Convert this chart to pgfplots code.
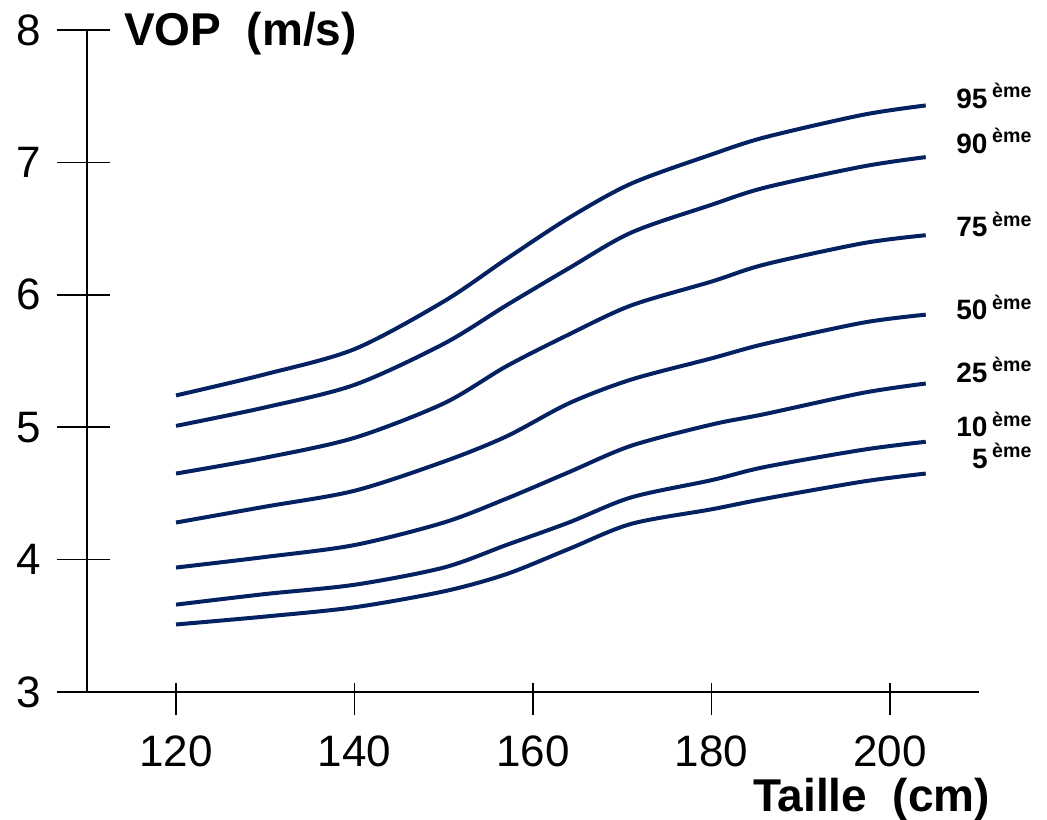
\documentclass[border=0pt]{standalone}
\usepackage{fontspec}
\setmainfont{Liberation Sans}
\usepackage{pgfplots}
\pgfplotsset{compat=1.18}
\definecolor{navy}{RGB}{4,34,98}

\pgfplotstableread{
x    p5    p10   p25   p50   p75   p90   p95
120  3.51  3.66  3.94  4.28  4.65  5.01  5.24
130  3.57  3.74  4.02  4.40  4.77  5.15  5.40
140  3.64  3.81  4.11  4.52  4.92  5.32  5.59
150  3.76  3.94  4.28  4.74  5.18  5.63  5.95
157  3.89  4.11  4.46  4.93  5.46  5.92  6.27
164  4.08  4.28  4.66  5.18  5.70  6.20  6.58
171  4.27  4.47  4.86  5.36  5.92  6.47  6.84
180  4.38  4.60  5.02  5.52  6.10  6.68  7.06
186  4.46  4.70  5.10  5.63  6.23  6.81  7.19
197  4.59  4.83  5.26  5.79  6.39  6.97  7.36
204  4.65  4.89  5.33  5.85  6.45  7.04  7.43
}\vop

\begin{document}
\begin{tikzpicture}
\begin{axis}[
  name=ax,
  scale only axis, width=446.25pt, height=331pt,
  xmin=110, xmax=210, ymin=3, ymax=8,
  axis x line=bottom, axis y line=left,
  axis line style={-, line width=1pt, black},
  xtick={120,140,...,200}, ytick={3,4,...,8},
  tick align=center,
  x tick style={line width=0.8pt, black, /pgfplots/major tick length=16pt, yshift=-3.5pt},
  y tick style={line width=0.8pt, black, /pgfplots/major tick length=26.5pt, xshift=-1.5pt},
  ticklabel style={font=\fontsize{22}{22}\selectfont},
  /pgf/number format/assume math mode=true,
  xticklabel style={yshift=-16pt},
  yticklabel style={xshift=-17pt},
  xlabel={\textbf{Taille\ \ (cm)}},
  ylabel={\textbf{VOP\ \ (m/s)}},
  every axis x label/.style={at={(rel axis cs:1,0)}, anchor=east, yshift=-54pt, xshift=5.5pt, inner sep=0pt, font=\fontsize{23}{23}\selectfont},
  every axis y label/.style={at={(rel axis cs:0,1)}, anchor=west, xshift=18.5pt, yshift=-2pt, inner sep=0pt, font=\fontsize{23}{23}\selectfont},
  clip=false,
  curve/.style={navy, line width=2pt, smooth, mark=none},
]
\addplot[curve] table[x=x, y=p5] {\vop};
\addplot[curve] table[x=x, y=p10] {\vop};
\addplot[curve] table[x=x, y=p25] {\vop};
\addplot[curve] table[x=x, y=p50] {\vop};
\addplot[curve] table[x=x, y=p75] {\vop};
\addplot[curve] table[x=x, y=p90] {\vop};
\addplot[curve] table[x=x, y=p95] {\vop};

\begin{scope}[every node/.style={anchor=base east, inner sep=0pt, font=\fontsize{14}{14}\selectfont\bfseries}]
\node at (axis cs:216,7.41) {95\,\textsuperscript{ème}};
\node at (axis cs:216,7.07) {90\,\textsuperscript{ème}};
\node at (axis cs:216,6.44) {75\,\textsuperscript{ème}};
\node at (axis cs:216,5.81) {50\,\textsuperscript{ème}};
\node at (axis cs:216,5.34) {25\,\textsuperscript{ème}};
\node at (axis cs:216,4.93) {10\,\textsuperscript{ème}};
\node at (axis cs:216,4.69) {5\,\textsuperscript{ème}};
\end{scope}
\end{axis}
\pgfresetboundingbox
\path ([shift={(-43.4pt,-63.5pt)}]ax.south west) rectangle ([shift={(480.1pt,346pt)}]ax.south west);
\end{tikzpicture}
\end{document}
